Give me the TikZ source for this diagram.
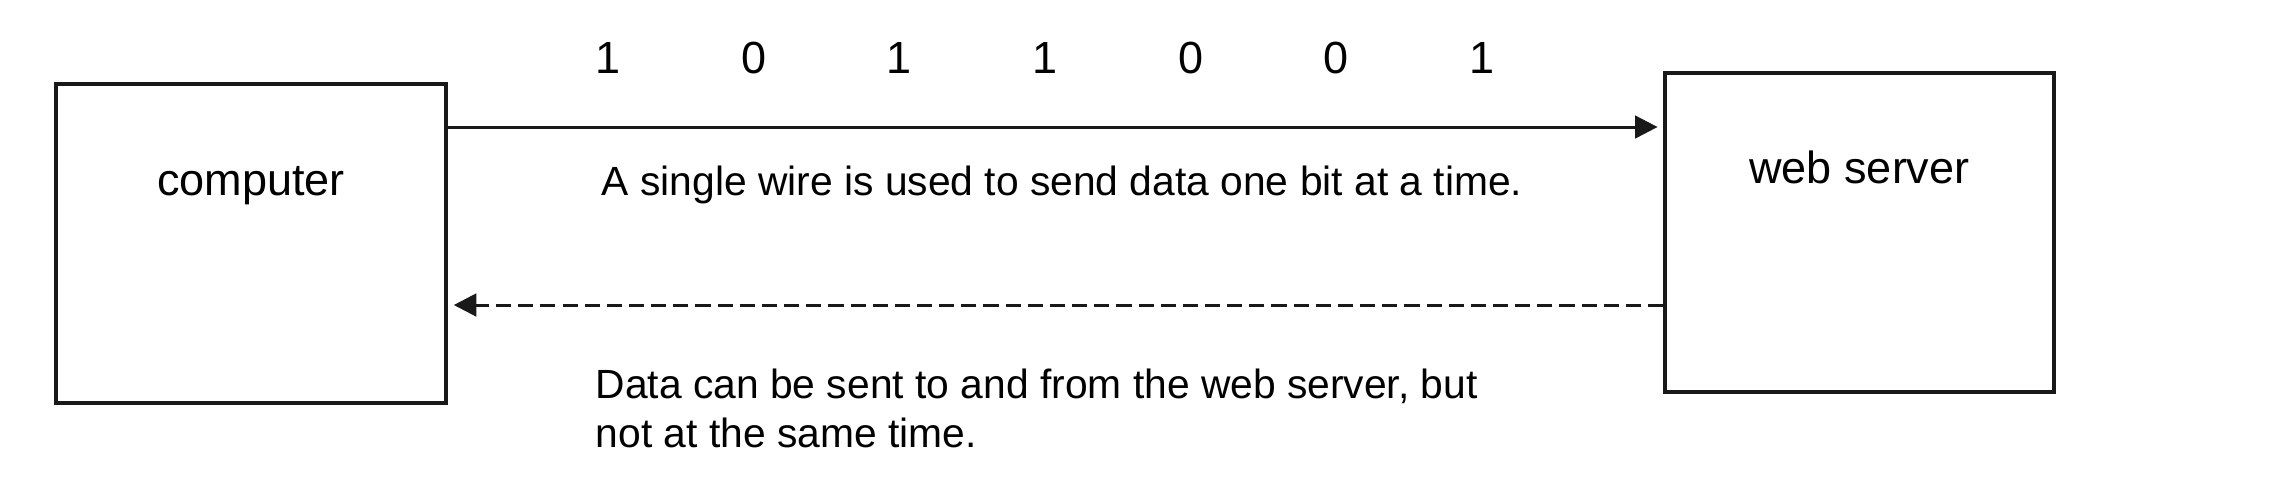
\documentclass[tikz,border=0pt]{standalone}
\usepackage{fontspec}
\setmainfont{Liberation Sans}
\usetikzlibrary{arrows.meta}
\begin{document}
\begin{tikzpicture}[x=0.01cm,y=-0.01cm,
  box/.style={draw=black!90, line width=0.95pt, rectangle, inner sep=0pt},
  boxlabel/.style={font=\fontsize{12.8pt}{15pt}\selectfont, anchor=base, inner sep=0pt},
  bit/.style={font=\fontsize{12.8pt}{15pt}\selectfont, anchor=base, inner sep=0pt},
  note/.style={font=\fontsize{11.6pt}{13.7pt}\selectfont, anchor=base west, inner sep=0pt, align=left},
  link/.style={line width=0.85pt, draw=black!90, -{Triangle[length=6.4pt,width=6.4pt]}},
  dlink/.style={link, dash pattern=on 4.3pt off 2pt}
]
\useasboundingbox (0,0) rectangle (2272,496);
\fill[white] (0,0) rectangle (2272,496);
\node[box, minimum width=3.90cm, minimum height=3.19cm] (comp) at (251,243.5) {};
\node[box, minimum width=3.89cm, minimum height=3.19cm] (serv) at (1859.5,232.5) {};
\node[boxlabel] (complabel) at (251,195) {computer};
\node[boxlabel] (servlabel) at (1859.5,183) {web server};
\foreach \b [count=\i from 0] in {1,0,1,1,0,0,1}
  \node[bit] (bit\i) at (608+145.7*\i,73) {\b};
\draw[link, shorten >=1.6pt] (comp.east |- 0,127) -- (serv.west |- 0,127);
\draw[dlink, shorten >=1.7pt] (serv.west |- 0,305) -- (comp.east |- 0,305);
\node[note] (wire) at (601,195) {A single wire is used to send data one bit at a time.};
\node[note] (duplex) at (595,447) {Data can be sent to and from the web server, but\\not at the same time.};
\end{tikzpicture}
\end{document}
